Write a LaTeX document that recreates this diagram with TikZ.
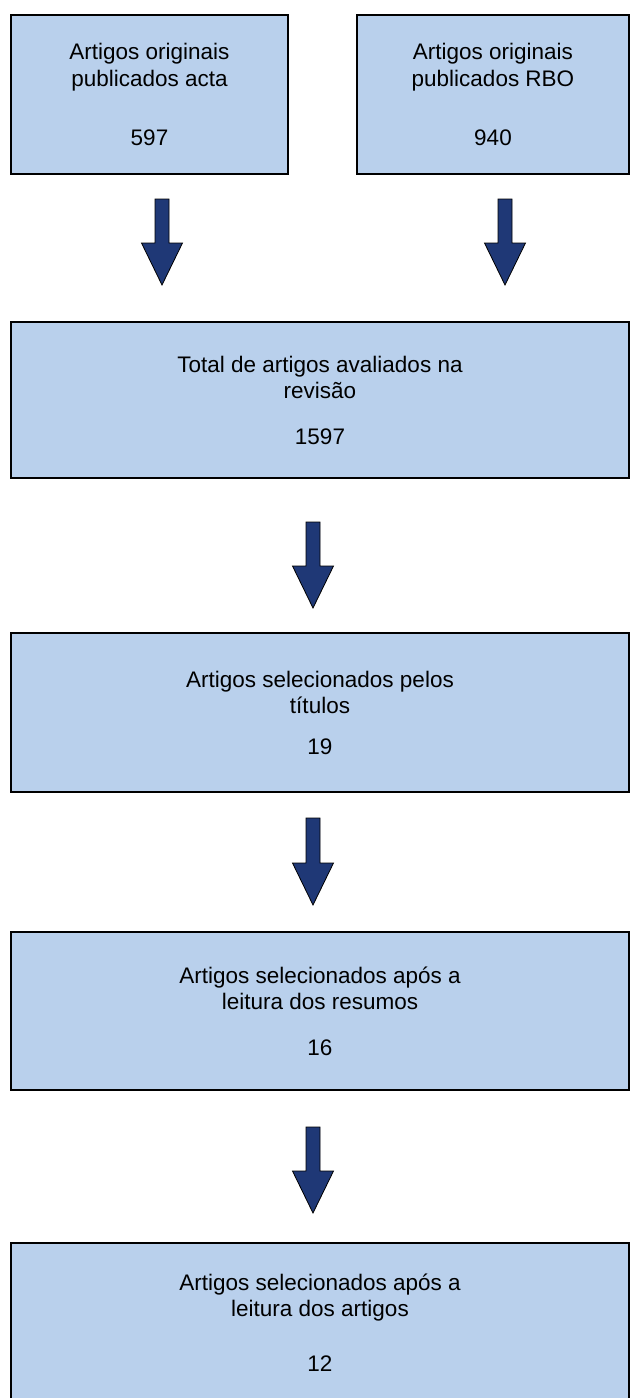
\documentclass[tikz,border=0pt]{standalone}
\usepackage{fontspec}
\setmainfont{Liberation Sans}
\usetikzlibrary{calc}
\definecolor{boxblue}{RGB}{185,208,236}
\definecolor{arrowblue}{RGB}{31,56,118}

\begin{document}
\begin{tikzpicture}[x=1pt,y=1pt]

\def\boxh{159pt}
\def\shaft{7pt}
\def\headw{20.5pt}
\def\headl{42pt}

\tikzset{stage/.style = {draw=black, line width=2.2pt, fill=boxblue, rectangle, minimum height=\boxh, inner sep=0pt, align=center, font=\fontsize{22.5}{26.5}\selectfont}}
\tikzset{blockarrow/.style = {draw=black, line width=0.8pt, fill=arrowblue, line join=miter,
  to path={let \p1=(\tikztostart), \p2=(\tikztotarget) in
    (\x1-\shaft,\y1) -- (\x1-\shaft,\y2+\headl) -- (\x1-\headw,\y2+\headl) -- (\x1,\y2)
    -- (\x1+\headw,\y2+\headl) -- (\x1+\shaft,\y2+\headl) -- (\x1+\shaft,\y1) -- cycle}}}

\useasboundingbox (0,0) rectangle (631,-1398);

% the two sources
\node[stage, minimum width=277pt] (B1) at (149.5,-94.5) {Artigos originais\\publicados acta\\[33pt]597};
\node[stage, minimum width=272pt] (B2) at (493,-94.5) {Artigos originais\\publicados RBO\\[33pt]940};

% the steps below
\node[stage, minimum width=618pt, minimum height=156pt] (B3) at (320,-400) {Total de artigos avaliados na\\revisão\\[19pt]1597};
\node[stage, minimum width=618pt] (B4) at (320,-712.5) {Artigos selecionados pelos\\títulos\\[14pt]19};
\node[stage, minimum width=618pt, minimum height=158pt] (B5) at (320,-1011) {Artigos selecionados após a\\leitura dos resumos\\[19pt]16};
\node[stage, minimum width=618pt] (B6) at (320,-1322.5) {Artigos selecionados após a\\leitura dos artigos\\[28pt]12};

\coordinate (A1s) at (162,-199);
\coordinate (A1e) at (162,-285);
\coordinate (A2s) at (505,-199);
\coordinate (A2e) at (505,-285);
\coordinate (A3s) at (313,-522);
\coordinate (A3e) at (313,-608);
\coordinate (A4s) at (313,-818);
\coordinate (A4e) at (313,-905);
\coordinate (A5s) at (313,-1127);
\coordinate (A5e) at (313,-1213);

\draw[blockarrow] (A1s) to (A1e);
\draw[blockarrow] (A2s) to (A2e);
\draw[blockarrow] (A3s) to (A3e);
\draw[blockarrow] (A4s) to (A4e);
\draw[blockarrow] (A5s) to (A5e);

\end{tikzpicture}
\end{document}
